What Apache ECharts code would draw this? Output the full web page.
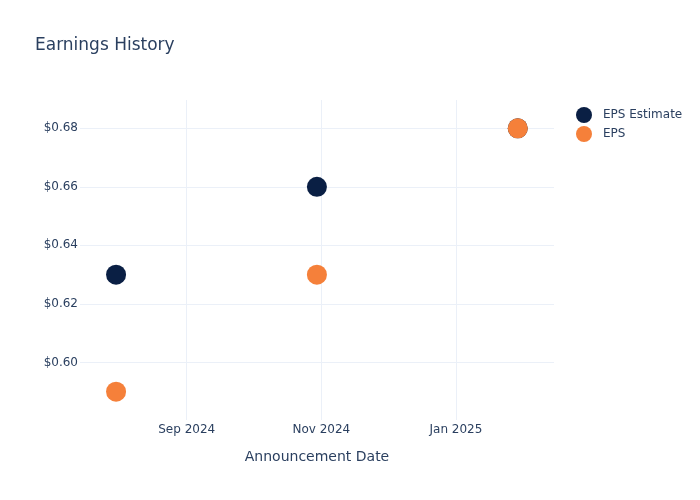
<!DOCTYPE html>
<html>
<head>
<meta charset="utf-8">
<script src="https://cdn.jsdelivr.net/npm/echarts@6/dist/echarts.min.js"></script>
<style>html,body{margin:0;padding:0;background:#fff}#c{width:700px;height:500px}</style>
</head>
<body>
<div id="c"></div>
<script>
const dates = ['2024-07-31', '2024-10-30', '2025-01-29'];
const epsEstimate = [0.63, 0.66, 0.68];
const eps = [0.59, 0.63, 0.68];
const xTickDates = ['2024-09-01', '2024-11-01', '2025-01-01'];
const xTickLabels = ['Sep 2024', 'Nov 2024', 'Jan 2025'];
const yTicks = [0.60, 0.62, 0.64, 0.66, 0.68];
const xRange = ['2024-07-14 16:00', '2025-02-14 10:00'];
const yRange = [0.5803, 0.6897];

const ts = s => new Date(s.replace(' ', 'T')).getTime();
const xTickTs = xTickDates.map(ts);
const txt = '#2a3f5f';
const gridColor = '#ebf0f8';
const font = 'DejaVu Sans, Verdana, sans-serif';

const chart = echarts.init(document.getElementById('c'), null, {renderer: 'canvas'});
chart.setOption({
  animation: false,
  backgroundColor: '#fff',
  title: {
    text: 'Earnings History', left: 30, top: 32,
    textStyle: {color: txt, fontSize: 17, fontWeight: 'normal', fontFamily: font}
  },
  legend: {
    orient: 'vertical', left: 571, top: 102, itemGap: 3,
    itemWidth: 16, itemHeight: 16, icon: 'circle',
    textStyle: {color: txt, fontSize: 12, fontFamily: font, padding: [0, 0, 0, 6]},
    data: ['EPS Estimate', 'EPS']
  },
  grid: {left: 80, right: 146, top: 100, bottom: 80, containLabel: false},
  xAxis: {
    type: 'value', min: ts(xRange[0]), max: ts(xRange[1]),
    name: 'Announcement Date', nameLocation: 'middle', nameGap: 30,
    nameTextStyle: {color: txt, fontSize: 14, fontFamily: font},
    axisLine: {show: false}, axisTick: {show: false, customValues: xTickTs},
    axisLabel: {
      customValues: xTickTs, color: txt, fontSize: 12, fontFamily: font, margin: 4,
      formatter: v => { const i = xTickTs.indexOf(v); return i >= 0 ? xTickLabels[i] : ''; }
    },
    splitLine: {show: true, lineStyle: {color: gridColor, width: 1}}
  },
  yAxis: {
    type: 'value', min: yRange[0], max: yRange[1],
    axisLine: {show: false}, axisTick: {show: false, customValues: yTicks},
    axisLabel: {
      customValues: yTicks, color: txt, fontSize: 12, fontFamily: font, margin: 2,
      formatter: v => '$' + v.toFixed(2)
    },
    splitLine: {show: true, lineStyle: {color: gridColor, width: 1}}
  },
  series: [
    {
      name: 'EPS Estimate', type: 'scatter', symbolSize: 20,
      itemStyle: {color: '#0a1f44', opacity: 1},
      data: dates.map((d, i) => [ts(d), epsEstimate[i]])
    },
    {
      name: 'EPS', type: 'scatter', symbolSize: 20,
      itemStyle: {color: '#f5803a', opacity: 1},
      data: dates.map((d, i) => [ts(d), eps[i]])
    }
  ]
});
</script>
</body>
</html>
